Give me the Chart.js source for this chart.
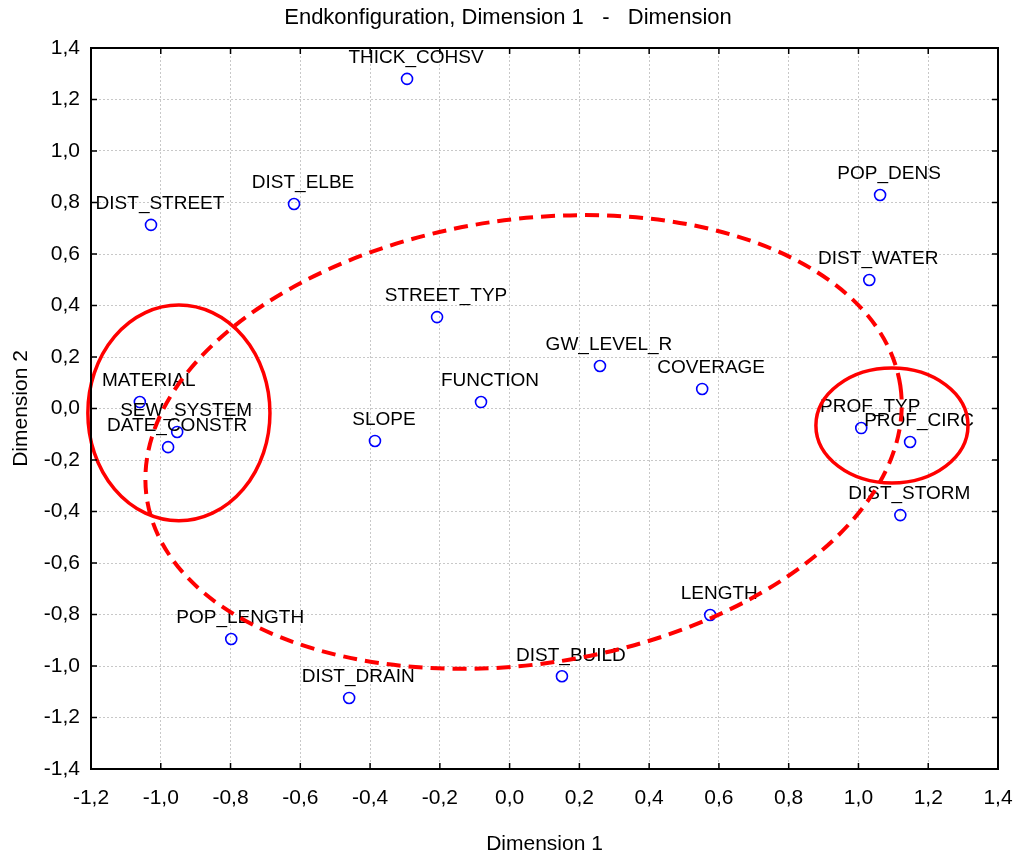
<!DOCTYPE html>
<html>
<head>
<meta charset="utf-8">
<script src="https://cdn.jsdelivr.net/npm/chart.js@4.4.1/dist/chart.umd.min.js"></script>
<style>
  body { margin: 0; background: #fff; }
  #wrap { width: 1016px; height: 857px; }
</style>
</head>
<body>
<div id="wrap"><canvas id="mdsChart" width="1016" height="857"></canvas></div>
<script>
// Variable names and coordinates
const varNames = ['THICK_COHSV', 'DIST_ELBE', 'DIST_STREET', 'POP_DENS', 'DIST_WATER',
    'STREET_TYP', 'GW_LEVEL_R', 'COVERAGE', 'FUNCTION', 'MATERIAL', 'SEW_SYSTEM',
    'DATE_CONSTR', 'SLOPE', 'PROF_TYP', 'PROF_CIRC', 'DIST_STORM', 'LENGTH',
    'POP_LENGTH', 'DIST_BUILD', 'DIST_DRAIN'];
const dim1 = [-0.294, -0.618, -1.028, 1.062, 1.031, -0.208, 0.259, 0.552, -0.082, -1.06, -0.953,
    -0.979, -0.386, 1.008, 1.148, 1.12, 0.575, -0.798, 0.15, -0.46];
const dim2 = [1.28, 0.794, 0.713, 0.829, 0.499, 0.355, 0.165, 0.076, 0.025, 0.025, -0.091,
    -0.15, -0.126, -0.076, -0.13, -0.414, -0.802, -0.895, -1.04, -1.124];

// Axis ranges
const xTicks = { min: -1.2, max: 1.4, step: 0.2 };
const yTicks = { min: -1.4, max: 1.4, step: 0.2 };

// Groups marked by hand in the original (centre, radii in axis units, tilt in degrees)
const groups = [
    { cx: 0.04, cy: -0.13, rx: 1.092, ry: 0.863, tilt: 8.5, dashed: true },
    { cx: -0.948, cy: -0.017, rx: 0.261, ry: 0.419, tilt: 0, dashed: false },
    { cx: 1.096, cy: -0.066, rx: 0.218, ry: 0.223, tilt: 0, dashed: false }
];

const FONT = "'Liberation Sans', Arial, sans-serif";

function fmt(v) {
    if (Math.abs(v) < 1e-9) return '0,0';
    return v.toFixed(1).replace('.', ',');
}

// Frame with inward tick marks
const framePlugin = {
    id: 'frame',
    afterDraw(chart) {
        const { ctx, chartArea: a, scales: { x, y } } = chart;
        ctx.save();
        ctx.strokeStyle = '#000';
        ctx.lineWidth = 2;
        ctx.strokeRect(a.left, a.top, a.right - a.left, a.bottom - a.top);
        ctx.lineWidth = 1.5;
        ctx.beginPath();
        x.ticks.forEach(t => {
            const px = x.getPixelForValue(t.value);
            ctx.moveTo(px, a.bottom); ctx.lineTo(px, a.bottom - 6);
            ctx.moveTo(px, a.top); ctx.lineTo(px, a.top + 6);
        });
        y.ticks.forEach(t => {
            const py = y.getPixelForValue(t.value);
            ctx.moveTo(a.left, py); ctx.lineTo(a.left + 6, py);
            ctx.moveTo(a.right, py); ctx.lineTo(a.right - 6, py);
        });
        ctx.stroke();
        ctx.restore();
    }
};

// Text labels next to each point
const labelPlugin = {
    id: 'pointLabels',
    afterDatasetsDraw(chart) {
        const { ctx } = chart;
        const meta = chart.getDatasetMeta(0);
        ctx.save();
        ctx.font = '19px ' + FONT;
        ctx.fillStyle = '#000';
        ctx.textAlign = 'center';
        ctx.textBaseline = 'middle';
        meta.data.forEach((pt, i) => {
            ctx.fillText(varNames[i], pt.x + 9, pt.y - 21);
        });
        ctx.restore();
    }
};

// Red ellipses around the groups
const groupPlugin = {
    id: 'groups',
    afterDatasetsDraw(chart) {
        const { ctx, scales: { x, y } } = chart;
        ctx.save();
        ctx.strokeStyle = '#ff0000';
        groups.forEach(g => {
            const px = x.getPixelForValue(g.cx);
            const py = y.getPixelForValue(g.cy);
            const rx = Math.abs(x.getPixelForValue(g.cx + g.rx) - px);
            const ry = Math.abs(y.getPixelForValue(g.cy + g.ry) - py);
            ctx.lineWidth = g.dashed ? 4 : 3.5;
            ctx.setLineDash(g.dashed ? [14, 8] : []);
            ctx.beginPath();
            ctx.ellipse(px, py, rx, ry, -g.tilt * Math.PI / 180, 0, Math.PI * 2);
            ctx.stroke();
        });
        ctx.restore();
    }
};

const ctx = document.getElementById('mdsChart').getContext('2d');
new Chart(ctx, {
    type: 'scatter',
    data: {
        datasets: [{
            data: dim1.map((v, i) => ({ x: v, y: dim2[i] })),
            pointStyle: 'circle',
            pointRadius: 5.5,
            pointBorderWidth: 1.6,
            borderColor: '#0000ff',
            backgroundColor: 'rgba(0,0,0,0)'
        }]
    },
    options: {
        responsive: false,
        animation: false,
        layout: { padding: 0 },
        plugins: {
            legend: { display: false },
            tooltip: { enabled: false },
            title: {
                display: true,
                text: 'Endkonfiguration, Dimension 1   -   Dimension',
                color: '#000',
                font: { family: FONT, size: 22, weight: 'normal' },
                padding: { top: 5, bottom: 16.6 }
            }
        },
        scales: {
            x: {
                type: 'linear',
                min: xTicks.min,
                max: xTicks.max,
                afterFit(scale) {
                    scale.height = 88;
                    scale.paddingLeft = 0;
                    scale.paddingRight = 18;
                },
                ticks: {
                    stepSize: xTicks.step,
                    color: '#000',
                    padding: 17,
                    maxRotation: 0,
                    font: { family: FONT, size: 21 },
                    callback: v => fmt(v)
                },
                grid: { color: '#c8c8c8', lineWidth: 1, drawTicks: false },
                border: { display: false, dash: [2, 2] },
                title: {
                    display: true,
                    text: 'Dimension 1',
                    color: '#000',
                    font: { family: FONT, size: 21 },
                    padding: { top: 1.5, bottom: 0 }
                }
            },
            y: {
                type: 'linear',
                min: yTicks.min,
                max: yTicks.max,
                afterFit(scale) {
                    scale.width = 91;
                    scale.paddingTop = 0;
                    scale.paddingBottom = 0;
                },
                ticks: {
                    stepSize: yTicks.step,
                    color: '#000',
                    padding: 11,
                    font: { family: FONT, size: 21 },
                    callback: v => fmt(v)
                },
                grid: { color: '#c8c8c8', lineWidth: 1, drawTicks: false },
                border: { display: false, dash: [2, 2] },
                title: {
                    display: true,
                    text: 'Dimension 2',
                    color: '#000',
                    font: { family: FONT, size: 21 },
                    padding: { top: 9, bottom: 0 }
                }
            }
        }
    },
    plugins: [framePlugin, labelPlugin, groupPlugin]
});
</script>
</body>
</html>
